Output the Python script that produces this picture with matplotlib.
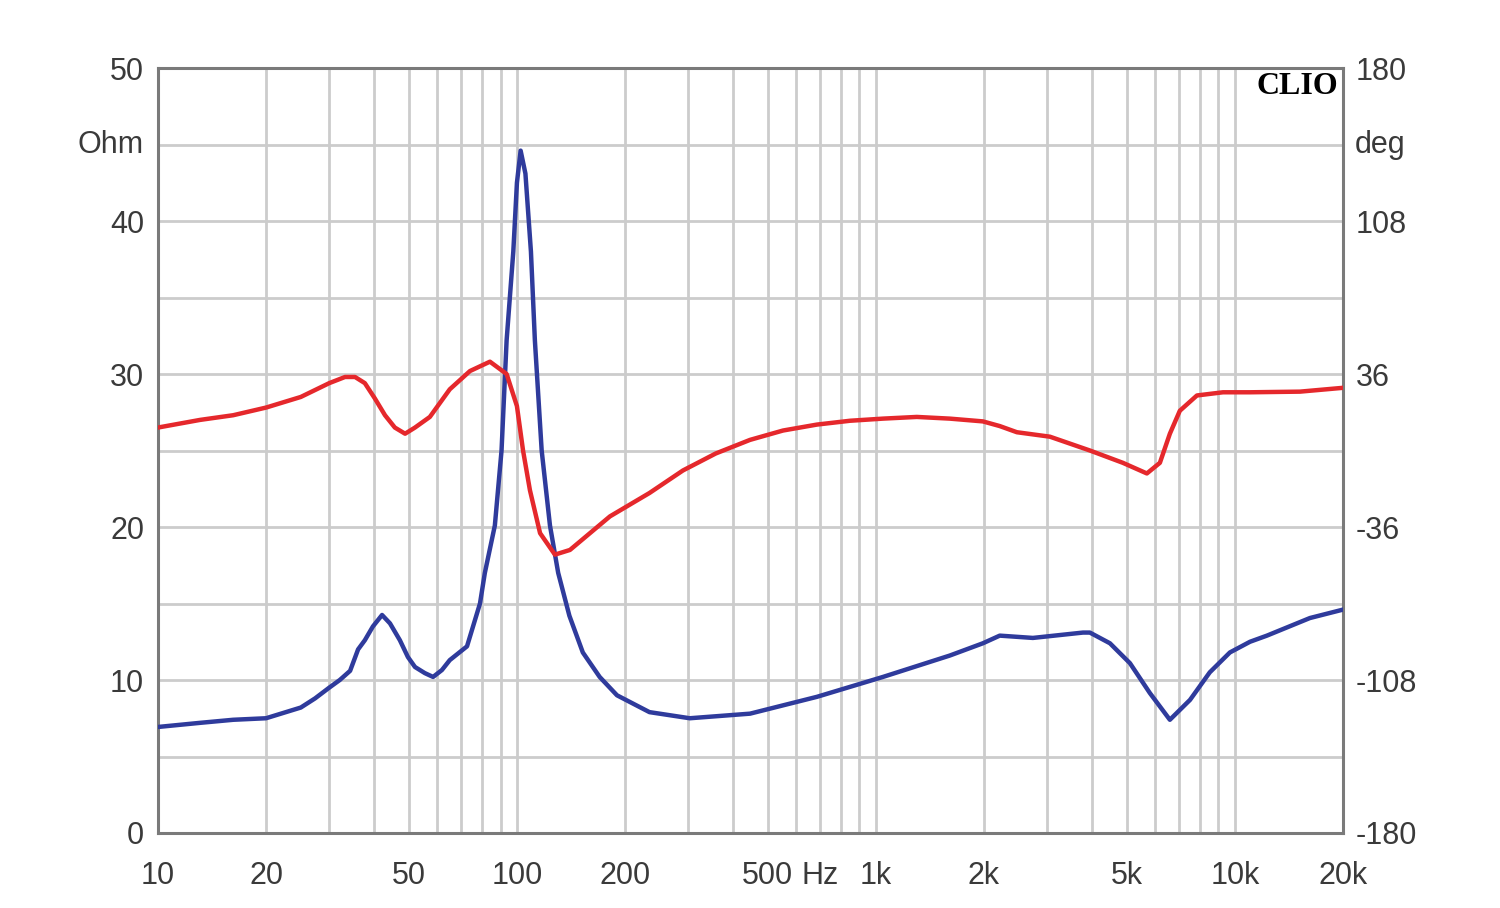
import matplotlib
matplotlib.use("Agg")
import matplotlib.pyplot as plt
import numpy as np

# Impedance magnitude (Ohm) - blue
imp_freq = [10, 13.1, 16.2, 20, 25, 27.4, 30, 32.1, 34.3, 36.1, 37.7, 39.7, 42.1, 44.3, 47.2,
            49.7, 52, 55.4, 58.4, 61.8, 65, 72.6, 78.9, 81.4, 86.8, 90.6, 93.6, 97.7, 100,
            102.4, 105.6, 109.4, 112.2, 117.2, 123.6, 130.3, 140, 152.6, 170, 190, 234, 303,
            446, 685, 1046, 1607, 1986, 2213, 2737, 3774, 3945, 4487, 5101, 5795, 6590,
            7499, 8511, 9684, 11020, 12280, 16180, 20000]
imp_ohm = [6.93, 7.2, 7.4, 7.5, 8.2, 8.8, 9.5, 10.0, 10.6, 12.0, 12.6, 13.5, 14.25, 13.7, 12.6,
           11.5, 10.85, 10.45, 10.2, 10.65, 11.3, 12.2, 15.0, 17.0, 20.1, 25.0, 32.2, 38.0, 42.5,
           44.6, 43.1, 38.0, 32.2, 25.0, 20.1, 17.0, 14.2, 11.8, 10.2, 9.0, 7.9, 7.5,
           7.8, 8.9, 10.2, 11.6, 12.4, 12.9, 12.75, 13.1, 13.1, 12.4, 11.1, 9.15, 7.4,
           8.7, 10.5, 11.8, 12.5, 12.9, 14.05, 14.6]

# Impedance phase (deg) - red
ph_freq = [10, 13.1, 16.2, 20, 25, 30, 33.2, 35.4, 37.7, 40.2, 42.9, 45.7, 48.8, 52, 57.2,
           65, 74, 84.1, 93.6, 100, 104, 108.7, 116, 127.6, 140.5, 181.6, 234, 290, 358,
           446, 551, 685, 847, 1046, 1300, 1607, 1986, 2213, 2470, 3053, 3945, 4875, 5686,
           6181, 6590, 7025, 7839, 9266, 11020, 15180, 20000]
ph_deg = [10.8, 14.4, 16.6, 20.2, 25.2, 31.7, 34.6, 34.6, 31.7, 24.5, 16.6, 10.8, 7.9, 10.8, 15.8,
          28.8, 37.4, 41.8, 36.0, 20.9, 0.0, -18.7, -38.9, -49.0, -46.8, -31.0, -20.0, -9.4, -1.4,
          5.0, 9.4, 12.2, 14.0, 15.0, 15.8, 15.0, 13.7, 11.5, 8.6, 6.5, 0.0, -5.8, -10.8,
          -5.8, 7.9, 18.7, 25.9, 27.4, 27.4, 27.7, 29.5]

x_grid = [10, 20, 30, 40, 50, 60, 70, 80, 90, 100, 200, 300, 400, 500, 600, 700, 800, 900,
          1000, 2000, 3000, 4000, 5000, 6000, 7000, 8000, 9000, 10000, 20000]
x_labels = {10: "10", 20: "20", 50: "50", 100: "100", 200: "200", 500: "500",
            1000: "1k", 2000: "2k", 5000: "5k", 10000: "10k", 20000: "20k"}
left_ticks = [0, 10, 20, 30, 40, 50]
right_ticks = [-180, -108, -36, 36, 108, 180]

txt = "#3a3a3a"
fs = 22

fig = plt.figure(figsize=(15, 9.08), dpi=100)
ax = fig.add_axes([0.1053, 0.0826, 0.79, 0.8425])
ax.set_xscale("log")
ax.set_xlim(10, 20000)
ax.set_ylim(0, 50)

ax.set_xticks(x_grid)
ax.set_xticklabels([x_labels.get(v, "") for v in x_grid])
ax.xaxis.set_minor_locator(matplotlib.ticker.NullLocator())
ax.set_yticks(np.arange(0, 51, 5))
ax.set_yticklabels([str(v) if v in left_ticks else "" for v in range(0, 51, 5)])
ax.grid(True, color="#cccccc", linewidth=2.0)
ax.set_axisbelow(True)
ax.tick_params(axis="both", length=0, labelsize=fs, labelcolor=txt)
ax.tick_params(axis="y", pad=10)
ax.tick_params(axis="x", pad=20)
for lab in ax.get_xticklabels() + ax.get_yticklabels():
    lab.set_fontfamily("Liberation Sans")
for sp in ax.spines.values():
    sp.set_color("#7a7a7a")
    sp.set_linewidth(2.2)

ax.plot(imp_freq, imp_ohm, color="#2f3b9c", linewidth=3.2, zorder=3)

ax2 = ax.twinx()
ax2.set_ylim(-180, 180)
ax2.set_yticks(right_ticks)
ax2.set_yticklabels([str(v) for v in right_ticks])
ax2.tick_params(axis="y", length=0, labelsize=fs, labelcolor=txt, pad=9)
for lab in ax2.get_yticklabels():
    lab.set_fontfamily("Liberation Sans")
for sp in ax2.spines.values():
    sp.set_visible(False)
ax2.plot(ph_freq, ph_deg, color="#e5282c", linewidth=3.2, zorder=3)

# Unit labels
ax.text(-0.012, 0.9, "Ohm", transform=ax.transAxes, ha="right", va="center",
        fontsize=fs, color=txt, family="Liberation Sans")
ax.text(1.01, 0.9, "deg", transform=ax.transAxes, ha="left", va="center",
        fontsize=fs, color=txt, family="Liberation Sans")
ax.text(700, -0.0565, "Hz", transform=ax.get_xaxis_transform(), ha="center", va="center",
        fontsize=fs, color=txt, family="Liberation Sans")
ax.text(0.996, 0.976, "CLIO", transform=ax.transAxes, ha="right", va="center",
        fontsize=23, fontweight="bold", color="black", family="Liberation Serif")

fig.savefig("out.png", dpi=100, facecolor="white")
